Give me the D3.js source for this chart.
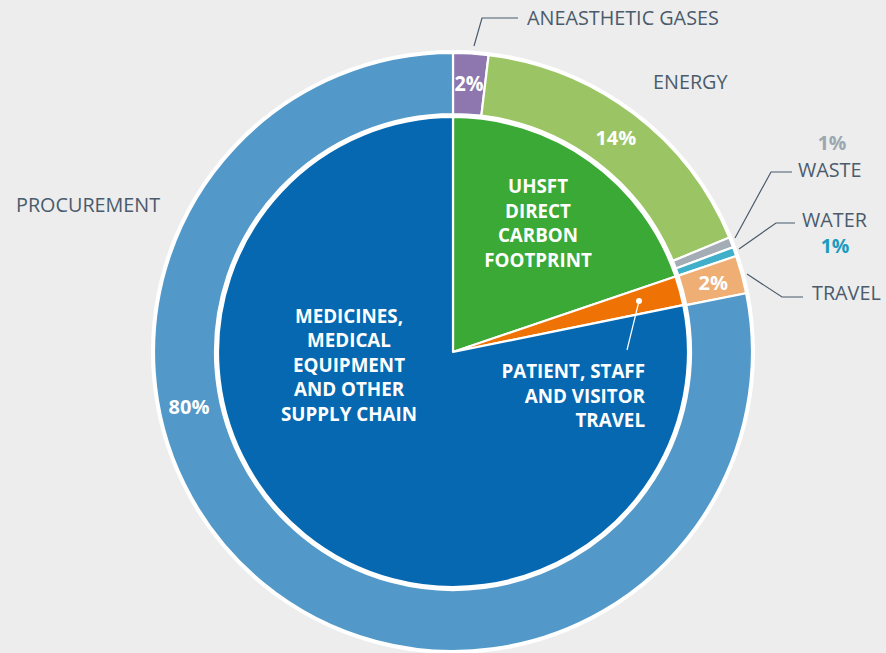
<!DOCTYPE html>
<html>
<head>
<meta charset="utf-8">
<script src="https://cdn.jsdelivr.net/npm/d3@7"></script>
<style>
  html, body { margin: 0; padding: 0; background: #ededed; }
  svg { display: block; font-family: "Open Sans", "Noto Sans", sans-serif; }
</style>
</head>
<body>
<div id="chart"></div>
<script>
// outer ring: breakdown of the direct footprint + procurement (share of circle, %)
const outerNames = ["ANEASTHETIC GASES", "ENERGY", "WASTE", "WATER", "TRAVEL", "PROCUREMENT"]
const outerShares = [1.9, 16.85, 0.55, 0.5, 2.05, 78.15]
const outerLabels = ["2%", "14%", "1%", "1%", "2%", "80%"]
const outerColors = ["#8d77ae", "#9bc564", "#a4adb5", "#40b0ca", "#eeae74", "#5298c9"]

// inner pie
const innerNames = ["UHSFT DIRECT CARBON FOOTPRINT", "PATIENT, STAFF AND VISITOR TRAVEL", "MEDICINES, MEDICAL EQUIPMENT AND OTHER SUPPLY CHAIN"]
const innerShares = [19.8, 2.0, 78.2]
const innerColors = ["#3aa935", "#ef7304", "#0568b1"]

const W = 886, H = 653
const cx = 453, cy = 352
const R_OUT = 299, R_RING = 238, R_PIE = 235

const svg = d3.select("#chart").append("svg")
    .attr("width", W).attr("height", H)

svg.append("rect").attr("width", W).attr("height", H).attr("fill", "#ededed")

const g = svg.append("g").attr("transform", `translate(${cx},${cy})`)

const pie = d3.pie().sort(null).value(d => d)

// white backing disc gives the outline + gap between ring and pie
g.append("circle").attr("r", R_OUT + 3).attr("fill", "white")

const outerArc = d3.arc().innerRadius(R_RING).outerRadius(R_OUT)
const outerData = pie(outerShares)

g.selectAll(".outer")
    .data(outerData)
    .enter().append("path")
    .attr("class", "outer")
    .attr("d", outerArc)
    .attr("fill", (d, i) => outerColors[i])
    .attr("stroke", "white")
    .attr("stroke-width", 2.2)

const innerArc = d3.arc().innerRadius(0).outerRadius(R_PIE)
const innerData = pie(innerShares)

g.selectAll(".inner")
    .data(innerData)
    .enter().append("path")
    .attr("class", "inner")
    .attr("d", innerArc)
    .attr("fill", (d, i) => innerColors[i])
    .attr("stroke", "white")
    .attr("stroke-width", 2.2)
    .attr("stroke-linejoin", "round")

// percentage labels inside the ring (ring centroid, 80% sits lower-left)
const labelArc = d3.arc().innerRadius(R_RING).outerRadius(R_OUT + 2)
const inRing = [0, 1, 4, 5]
inRing.forEach(i => {
    let d = outerData[i]
    let a = d
    if (i === 5) a = { startAngle: 4.51, endAngle: 4.51 }
    const [x, y] = labelArc.centroid(a)
    const t = g.append("text")
        .attr("x", x).attr("y", y)
        .attr("text-anchor", "middle")
        .attr("dominant-baseline", "central")
        .attr("fill", "white")
        .attr("font-weight", 700)
        .attr("font-size", i === 0 ? 21 : 20)
        .text(outerLabels[i])
    if (i === 0) t.attr("textLength", 29).attr("lengthAdjust", "spacingAndGlyphs")
})

const lab = svg.append("g").attr("fill", "#4a5b6c").attr("font-size", 19.8)

lab.append("text").attr("x", 527).attr("y", 25).text("ANEASTHETIC GASES")
lab.append("text").attr("x", 653).attr("y", 89).text("ENERGY")
lab.append("text").attr("x", 798).attr("y", 177).text("WASTE")
lab.append("text").attr("x", 802).attr("y", 227).text("WATER")
lab.append("text").attr("x", 812).attr("y", 300).text("TRAVEL")
lab.append("text").attr("x", 16).attr("y", 212).text("PROCUREMENT")

svg.append("text").attr("x", 832).attr("y", 150).attr("text-anchor", "middle")
    .attr("font-size", 19.5).attr("font-weight", 700).attr("fill", "#9ca7b0").text(outerLabels[2])
svg.append("text").attr("x", 835).attr("y", 253).attr("text-anchor", "middle")
    .attr("font-size", 19.5).attr("font-weight", 700).attr("fill", "#1c9bc0").text(outerLabels[3])

// leader lines
const leaders = [
    [[474, 46], [482, 18], [518, 18]],
    [[735, 238], [771, 172], [792, 172]],
    [[739, 249], [776, 223], [795, 223]],
    [[747, 274], [782, 297], [803, 297]]
]
svg.selectAll(".leader")
    .data(leaders)
    .enter().append("path")
    .attr("class", "leader")
    .attr("d", d3.line())
    .attr("fill", "none")
    .attr("stroke", "#4a5b6c")
    .attr("stroke-width", 1.2)

// inner labels
function block(lines, x, y0, anchor) {
    const t = svg.append("text")
        .attr("fill", "white").attr("font-weight", 700).attr("font-size", 18.8)
        .attr("text-anchor", anchor)
    lines.forEach((l, i) => {
        t.append("tspan").attr("x", x).attr("y", y0 + i * 24.6).text(l)
    })
}
block(["UHSFT", "DIRECT", "CARBON", "FOOTPRINT"], 538, 193, "middle")
block(["PATIENT, STAFF", "AND VISITOR", "TRAVEL"], 645, 378, "end")
block(["MEDICINES,", "MEDICAL", "EQUIPMENT", "AND OTHER", "SUPPLY CHAIN"], 349, 322.5, "middle")

// pointer into the thin orange slice
svg.append("line").attr("x1", 639).attr("y1", 301).attr("x2", 627).attr("y2", 350)
    .attr("stroke", "white").attr("stroke-width", 1.2)
svg.append("circle").attr("cx", 639).attr("cy", 301).attr("r", 3).attr("fill", "white")
</script>
</body>
</html>
